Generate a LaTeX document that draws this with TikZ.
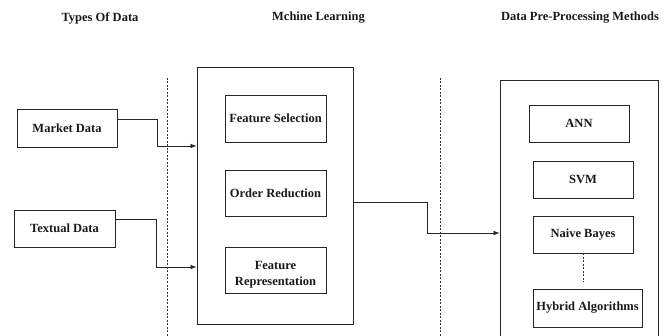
\documentclass[tikz,border=0pt]{standalone}
\usepackage{fontspec}
\setmainfont{Liberation Serif}
\usetikzlibrary{arrows.meta}
\begin{document}
\begin{tikzpicture}[x=1pt,y=-1pt,
  every node/.style={font=\bfseries\fontsize{12.5}{14}\selectfont, text=black!90},
  box/.style={draw=black!85, line width=0.8pt, inner sep=0pt, align=center},
  panel/.style={draw=black!85, line width=0.8pt, inner sep=0pt},
  sep/.style={draw=black!80, line width=0.6pt, dash pattern=on 2pt off 1.5pt},
  link/.style={draw=black!85, line width=0.7pt},
  arr/.style={link, -{Latex[length=6pt,width=4.5pt]}},
  title/.style={inner sep=0pt, anchor=center}
]
\clip (0,0) rectangle (671,336);
\fill[white] (0,0) rectangle (671,336);

% column headings
\node[title] (h1) at (100,18) {Types Of Data};
\node[title] (h2) at (318.5,18) {Mchine Learning};
\node[title] (h3) at (580,18) {Data Pre-Processing Methods};

% column separators
\coordinate (s1t) at (167,78);
\coordinate (s1b) at (167,340);
\coordinate (s2t) at (440,78);
\coordinate (s2b) at (440,340);
\draw[sep] (s1t) -- (s1b);
\draw[sep] (s2t) -- (s2b);

% data sources
\node[box, minimum width=100pt, minimum height=38pt] (mkt) at (67,128) {Market Data};
\node[box, minimum width=101pt, minimum height=37pt] (txt) at (64.5,228.5) {Textual Data};

% machine learning panel
\node[panel, minimum width=156pt, minimum height=257pt] (ml) at (275,195.5) {};
\node[box, minimum width=101pt, minimum height=47pt] (fs) at (275.5,118.5) {Feature Selection};
\node[box, minimum width=101pt, minimum height=46pt] (or) at (275.5,193) {Order Reduction};
\node[box, minimum width=101pt, minimum height=46pt] (fr) at (275.5,270) {};
\node[inner sep=0pt, align=center] (frl) at (275.5,275) {Feature\\[2pt]Representation};

% methods panel (runs off the lower edge)
\node[panel, minimum width=158pt, minimum height=270pt] (mp) at (579,215) {};
\node[box, minimum width=100pt, minimum height=37pt] (ann) at (579,123.5) {ANN};
\node[box, minimum width=100pt, minimum height=37pt] (svm) at (583,179.5) {SVM};
\node[box, minimum width=100pt, minimum height=37pt] (nb) at (583,234.5) {Naive Bayes};
\node[box, minimum width=109pt, minimum height=38pt] (ha) at (587.5,308) {Hybrid Algorithms};
\coordinate (nbend) at (583,282);
\draw[sep] (nb.south) -- (nbend);

% connectors
\draw[arr] ([yshift=9pt]mkt.east) -- (157,119) -- (157,146) -- (ml.west |- 0,146);
\draw[arr] ([yshift=9.5pt]txt.east) -- (156,219) -- (156,267) -- (ml.west |- 0,267);
\draw[arr] (ml.east |- 0,202) -- (427,202) -- (427,233) -- (mp.west |- 0,233);
\end{tikzpicture}
\end{document}
